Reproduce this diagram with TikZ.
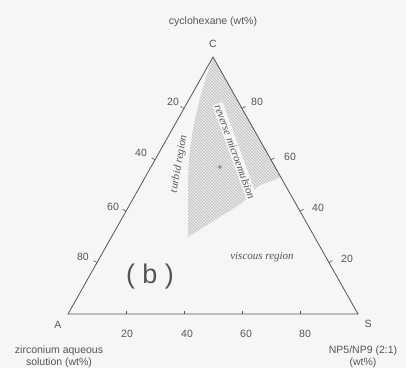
\documentclass[tikz,border=0pt]{standalone}
\usepackage{fontspec}
\setmainfont{Liberation Sans}
\newfontfamily\serifit{Liberation Serif}
\usetikzlibrary{patterns,calc}
\definecolor{ink}{RGB}{85,85,85}
\definecolor{paper}{RGB}{246,246,246}
\begin{document}
\begin{tikzpicture}[x=1pt,y=-1pt,
  lab/.style={text=ink,font=\fontsize{10.5}{12}\selectfont,inner sep=0pt},
  reg/.style={text=ink,font=\serifit\itshape\fontsize{11}{12}\selectfont,inner sep=0pt},
  edge/.style={draw=ink,line width=0.8pt},
  tick/.style={draw=ink,line width=0.6pt}]
\fill[paper] (0,0) rectangle (406,368);
\useasboundingbox (0,0) rectangle (406,368);
\coordinate (A) at (68,314);
\coordinate (S) at (358,314);
\coordinate (C) at (213,57);
% hatched region
\fill[gray!18] (C) -- (281,177) -- (258,186) -- (242,203) -- (188,237) -- (188,185)
  .. controls (188,150) and (194,110) .. (C) -- cycle;
\path[pattern=north west lines,pattern color=gray!55] (C) -- (281,177) -- (258,186) -- (242,203) -- (188,237) -- (188,185)
  .. controls (188,150) and (194,110) .. (C) -- cycle;
\draw[edge,line join=miter] (A) -- (S) -- (C) -- cycle;
% ticks
\foreach \t in {0.2,0.4,0.6,0.8}{
  \draw[tick] ($(A)!\t!(S)$) -- ++(0,-3);
  \draw[tick] ($(C)!\t!(A)$) -- ++(-3.5,-2);
  \draw[tick] ($(C)!\t!(S)$) -- ++(3.5,-2);
}
% tick labels
\node[lab] (b20) at (127,334) {20};
\node[lab] (b40) at (187,334) {40};
\node[lab] (b60) at (246,334) {60};
\node[lab] (b80) at (305,334) {80};
\node[lab] (l20) at (173,102) {20};
\node[lab] (l40) at (141,153) {40};
\node[lab] (l60) at (113,207) {60};
\node[lab] (l80) at (83,257) {80};
\node[lab] (r80) at (257,102) {80};
\node[lab] (r60) at (290,157) {60};
\node[lab] (r40) at (318,208) {40};
\node[lab] (r20) at (347,259) {20};
% vertex labels
\node[lab] (tC) at (213,44) {C};
\node[lab] (tA) at (58,325) {A};
\node[lab] (tS) at (368,324) {S};
\node[lab] (top) at (213,22) {cyclohexane (wt\%)};
\node[lab,align=center] (bl) at (59,357) {zirconium aqueous\\solution (wt\%)};
\node[lab,align=center] (br) at (363,357) {NP5/NP9 (2:1)\\(wt\%)};
% region labels
\node[reg] (turbid) at (179,164) [rotate=80] {turbid region};
\node[reg,fill=paper,inner sep=1.5pt] (micro) at (235,152) [rotate=-70] {reverse microemulsion};
\node[reg] (visc) at (262,257) {viscous region};
\node[text=ink,font=\fontsize{27}{30}\selectfont,inner sep=0pt] (bb) at (150,277) {( b )};
\node[text=ink,font=\fontsize{9}{9}\selectfont,inner sep=0pt] (plus) at (220,168) {+};
\end{tikzpicture}
\end{document}
